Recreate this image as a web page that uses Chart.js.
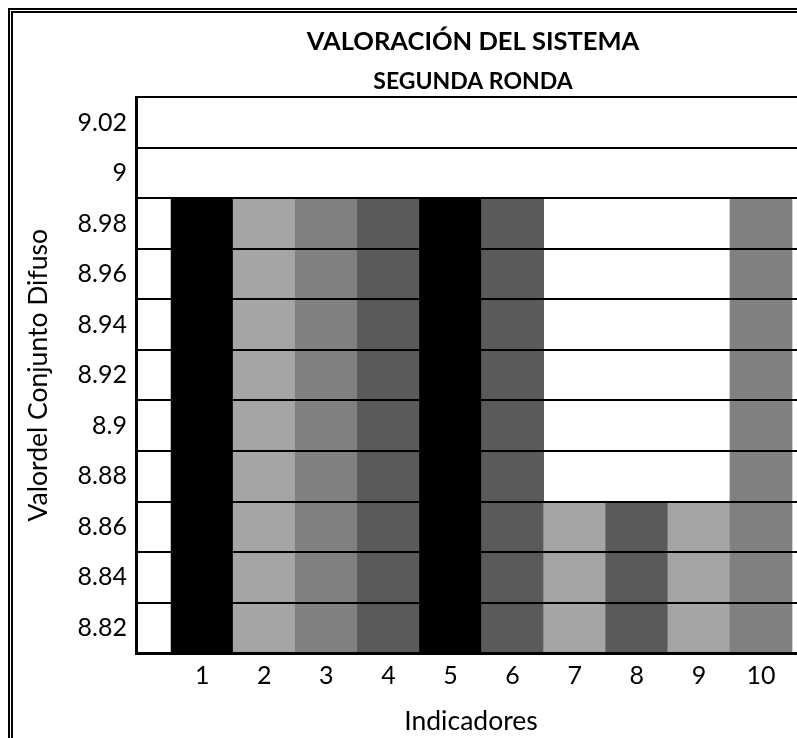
<!DOCTYPE html>
<html>
<head>
<meta charset="utf-8">
<script src="https://cdn.jsdelivr.net/npm/chart.js@4"></script>
<style>
  html, body { margin: 0; padding: 0; overflow: hidden; background: #fff; }
  #marco { position: absolute; left: 8px; top: 8px; width: 1000px; height: 1000px; border: 5px double #000; }
  #grafico { position: absolute; left: 0; top: 0; }
</style>
</head>
<body>
<div id="marco"></div>
<canvas id="grafico" width="932" height="760"></canvas>
<script>
// datos
const indicadores = [1, 2, 3, 4, 5, 6, 7, 8, 9, 10];
const valores = [8.99, 8.99, 8.99, 8.99, 8.99, 8.99, 8.87, 8.87, 8.87, 8.99];
const colores = ['#000000', '#a5a5a5', '#808080', '#5a5a5a', '#000000', '#5a5a5a', '#a5a5a5', '#5a5a5a', '#a5a5a5', '#808080'];
const yTickLabels = ['8.82', '8.84', '8.86', '8.88', '8.9', '8.92', '8.94', '8.96', '8.98', '9', '9.02'];

const fuente = 'Lato, "Open Sans", sans-serif';

// etiqueta en el centro de cada franja, linea en los bordes
const etiquetaY = (v) => {
  const l = yTickLabels.find(s => Math.abs(parseFloat(s) - v) < 1e-6);
  return l || '';
};

const ctx = document.getElementById('grafico').getContext('2d');

const grafico = new Chart(ctx, {
  type: 'bar',
  data: {
    datasets: [{
      label: 'Valor',
      data: indicadores.map((x, i) => ({ x: x, y: valores[i] })),
      backgroundColor: colores,
      borderWidth: 0,
      barPercentage: 1,
      categoryPercentage: 1
    }]
  },
  options: {
    responsive: false,
    devicePixelRatio: 1,
    animation: false,
    layout: { padding: { left: 14, top: 0, right: 0, bottom: 23 } },
    plugins: {
      legend: { display: false },
      tooltip: { enabled: false },
      title: {
        display: true,
        text: 'VALORACIÓN DEL SISTEMA',
        color: '#000',
        font: { family: fuente, size: 25.5, weight: 'bold' },
        padding: { top: 26, bottom: 5 }
      },
      subtitle: {
        display: true,
        text: 'SEGUNDA RONDA',
        color: '#000',
        font: { family: fuente, size: 23, weight: 'bold' },
        padding: { top: 6, bottom: 2 }
      }
    },
    scales: {
      x: {
        type: 'linear',
        offset: false,
        min: -0.065,
        max: 10.725,
        afterBuildTicks: (scale) => {
          scale.ticks = indicadores.map(v => ({ value: v }));
        },
        ticks: {
          color: '#000',
          font: { family: fuente, size: 25 },
          padding: 8,
          autoSkip: false,
          maxRotation: 0,
          callback: (v) => String(v)
        },
        grid: { display: false, drawTicks: false },
        border: { color: '#000', width: 3, z: 1 },
        title: {
          display: true,
          text: 'Indicadores',
          color: '#000',
          font: { family: fuente, size: 26.5 },
          padding: { top: 6, bottom: 0 }
        }
      },
      y: {
        min: 8.81,
        max: 9.03,
        afterBuildTicks: (scale) => {
          const t = [];
          yTickLabels.forEach(l => {
            const v = parseFloat(l);
            t.push({ value: +(v - 0.01).toFixed(2) });
            t.push({ value: v });
          });
          t.push({ value: +(parseFloat(yTickLabels[yTickLabels.length - 1]) + 0.01).toFixed(2) });
          scale.ticks = t;
        },
        afterFit: (scale) => { scale.width = 122; },
        ticks: {
          color: '#000',
          font: { family: fuente, size: 25 },
          padding: 9,
          autoSkip: false,
          callback: etiquetaY
        },
        grid: {
          color: (c) => (c.index % 2 === 0 ? '#000' : 'rgba(0,0,0,0)'),
          lineWidth: 2,
          drawTicks: false,
          z: 1
        },
        border: { color: '#000', width: 3, z: 1 },
        title: {
          display: true,
          text: 'Valordel Conjunto Difuso',
          color: '#000',
          font: { family: fuente, size: 26.5 },
          padding: { top: 9, bottom: 0 }
        }
      },
      // espacio a la derecha (el grafico original sigue fuera del recorte)
      derecha: {
        position: 'right',
        afterFit: (scale) => { scale.width = 126; },
        ticks: { display: false },
        grid: { display: false, drawTicks: false },
        border: { display: false }
      }
    }
  }
});
</script>
</body>
</html>
